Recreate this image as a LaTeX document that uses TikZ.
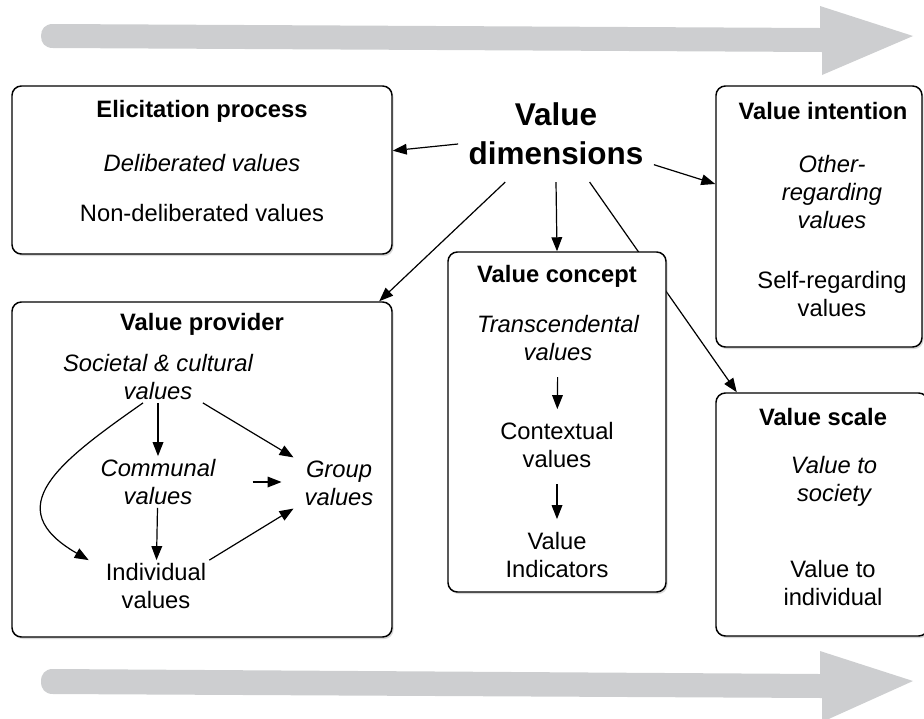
\documentclass[tikz,border=0pt]{standalone}
\usepackage{fontspec}
\setmainfont{Liberation Sans}
\usetikzlibrary{arrows.meta,fit,calc,shadows,backgrounds}

\tikzset{every picture/.style={line width=0.75pt}}
\tikzset{
  panel/.style={draw, line width=1.1pt, rounded corners=7pt, fill=white, inner sep=0pt,
    drop shadow={shadow xshift=1.2pt, shadow yshift=-1.5pt, opacity=0.3}},
  boxtext/.style={font=\fontsize{17.8}{21}\selectfont, align=center, inner sep=2pt},
  boxtitle/.style={boxtext, font=\fontsize{17.8}{21}\selectfont\bfseries},
  boxital/.style={boxtext, font=\fontsize{17.8}{21}\selectfont\itshape},
  dimtxt/.style={font=\fontsize{23.6}{29}\selectfont\bfseries, align=center, inner xsep=7.5pt, inner ysep=12.5pt},
  arr/.style={line width=0.9pt, -{Triangle[length=10.5pt,width=8pt]}},
  shortarr/.style={arr, shorten <=10pt, shorten >=7.5pt},
  bandarrow/.style={fill={rgb, 255:red, 205; green, 206; blue, 208}}
}

\begin{document}
\begin{tikzpicture}[x=0.75pt,y=0.75pt,yscale=-1,xscale=1]
\useasboundingbox (0,0) rectangle (924,718);

%Shape: Top band arrow
\fill[bandarrow] (820,28) -- (820,6) -- (913,36) -- (822,75) -- (822,52) -- (53,48) .. controls (45,48) and (41,43) .. (41,36) .. controls (41,29) and (45,24) .. (53,24) -- cycle;
%Shape: Bottom band arrow
\fill[bandarrow] (820,674) -- (820,651) -- (913,681) -- (822,722) -- (822,698) -- (53,694) .. controls (45,694) and (41,689) .. (41,681.5) .. controls (41,674) and (45,669) .. (53,669) -- cycle;

%Shape: Boxes
\node[panel, fit={(12,86) (392,254)}] (elic) {};
\node[panel, fit={(716,86) (922,347)}] (intent) {};
\node[panel, fit={(12,302) (392,637)}] (prov) {};
\node[panel, fit={(448,252) (666,592)}] (concept) {};
\node[panel, fit={(716,393) (928,636)}] (vscale) {};

% Text Node
\node[dimtxt] (dim) at (556,134) {Value\\dimensions};

% Elicitation process
\node[boxtitle] (ehd) at (202,111) {Elicitation process};
\node[boxital] (edel) at (202,163) {Deliberated values};
\node[boxtext] (enon) at (202,213) {Non-deliberated values};

% Value intention
\node[boxtitle] (ihd) at (823,111) {Value intention};
\node[boxital] (ioth) at (832,192) {Other-\\regarding\\values};
\node[boxtext] (iself) at (832,294) {Self-regarding\\values};

% Value provider
\node[boxtitle] (phd) at (202,324) {Value provider};
\node[boxital] (soc) at (158,377) {Societal \& cultural\\values};
\node[boxital] (com) at (158,482) {Communal\\values};
\node[boxital, inner xsep=8pt] (grp) at (339,483) {Group\\values};
\node[boxtext] (ind) at (156,586) {Individual\\values};

% Value concept
\node[boxtitle] (chd) at (557,276) {Value concept};
\node[boxital] (ctr) at (558,338) {Transcendental\\values};
\node[boxtext] (cctx) at (557,445) {Contextual\\values};
\node[boxtext] (cind) at (557,555) {Value\\Indicators};

% Value scale
\node[boxtitle] (shd) at (823,417) {Value scale};
\node[boxital] (ssoc) at (834,481) {Value to\\society};
\node[boxtext] (sind) at (833,583) {Value to\\individual};

%Straight Lines
\begin{pgfonlayer}{background}
\draw[arr] (dim) -- (elic);
\draw[arr] (dim) -- (intent);
\draw[arr] (dim.south) -- (concept.north);
\draw[arr] (dim) -- (prov);
\draw[arr] (dim) -- (vscale);
\end{pgfonlayer}

\draw[shortarr] (ctr) -- (cctx);
\draw[shortarr] (cctx) -- (cind);

\draw[arr] (soc) -- (com);
\draw[arr] (com) -- (ind);
\draw[arr] (soc.-30) -- (grp.north west);
\draw[arr, shorten <=25.5pt, shorten >=9pt] (com.east) -- (com.east -| grp.west);
\draw[arr] (ind.north east) -- (grp.south west);
%Curve Lines
\draw[arr] (soc.-120) to[out=145, in=210, looseness=1.6] ($(ind.north west)+(-14,0)$);

\end{tikzpicture}
\end{document}
